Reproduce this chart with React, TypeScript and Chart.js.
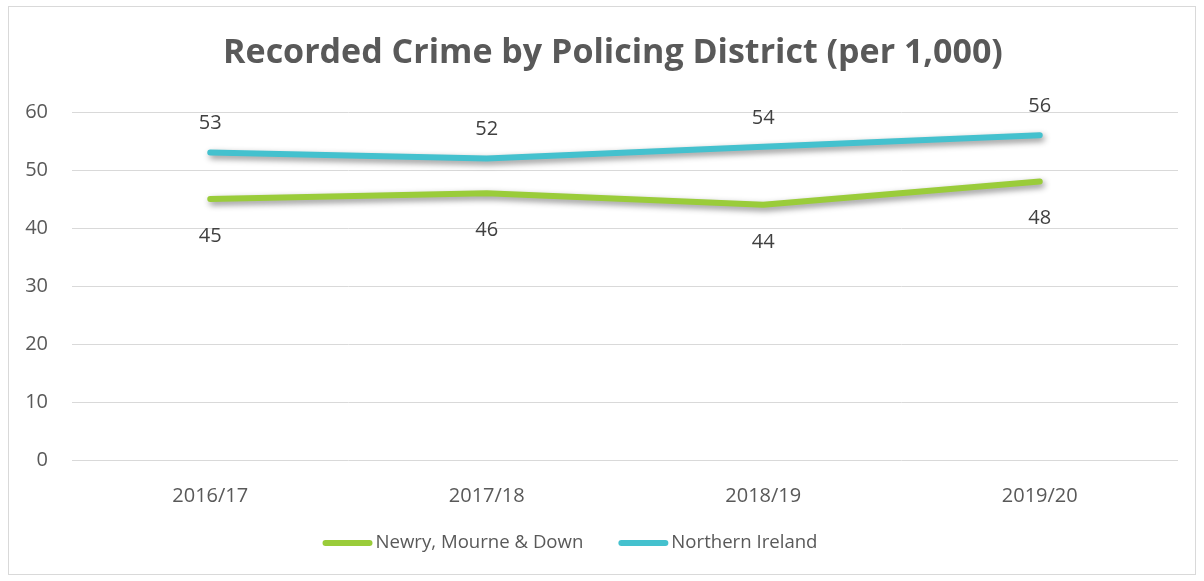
import React, { useEffect, useRef } from "react";
import { Chart, registerables } from "chart.js";

Chart.register(...registerables);

const categories = ["2016/17", "2017/18", "2018/19", "2019/20"];
const newryValues = [45, 46, 44, 48];
const niValues = [53, 52, 54, 56];
const seriesNames = ["Newry, Mourne & Down", "Northern Ireland"];
const seriesColors = ["#9ACC3A", "#44C1CE"];
const titleText = "Recorded Crime by Policing District (per 1,000)";

const FONT = "'Open Sans', 'DejaVu Sans', sans-serif";

const shadowPlugin = {
  id: "lineShadow",
  beforeDatasetsDraw(chart: any) {
    const ctx = chart.ctx;
    ctx.save();
    ctx.shadowColor = "rgba(0,0,0,0.45)";
    ctx.shadowBlur = 6;
    ctx.shadowOffsetX = 2;
    ctx.shadowOffsetY = 3;
  },
  afterDatasetsDraw(chart: any) {
    chart.ctx.restore();
  },
};

const labelPlugin = {
  id: "valueLabels",
  afterDatasetsDraw(chart: any) {
    const ctx = chart.ctx;
    ctx.save();
    ctx.font = `20px ${FONT}`;
    ctx.fillStyle = "#404040";
    ctx.textAlign = "center";
    ctx.textBaseline = "middle";
    chart.data.datasets.forEach((ds: any, di: number) => {
      const meta = chart.getDatasetMeta(di);
      const off = ds.labelPos === "above" ? -29 : 37;
      meta.data.forEach((pt: any, i: number) => {
        ctx.fillText(String(ds.data[i]), pt.x, pt.y + off);
      });
    });
    ctx.restore();
  },
};

// Title and legend drawn on the canvas
const frameTextPlugin = {
  id: "frameText",
  afterDraw(chart: any) {
    const ctx = chart.ctx;
    ctx.save();
    ctx.font = `bold 34px ${FONT}`;
    ctx.fillStyle = "#595959";
    ctx.textAlign = "center";
    ctx.textBaseline = "middle";
    ctx.fillText(titleText, 604, 46);

    ctx.font = `18.6px ${FONT}`;
    ctx.textAlign = "left";
    const markerW = 50;
    const gap = 3;
    const itemGap = 35;
    const items = chart.data.datasets.map((ds: any) => ({
      text: ds.label,
      color: ds.borderColor,
      w: markerW + gap + ctx.measureText(ds.label).width,
    }));
    const total =
      items.reduce((a: number, it: any) => a + it.w, 0) + itemGap * (items.length - 1);
    let x = 561 - total / 2;
    const y = 536;
    items.forEach((it: any) => {
      ctx.strokeStyle = it.color;
      ctx.lineWidth = 6;
      ctx.lineCap = "round";
      ctx.beginPath();
      ctx.moveTo(x + 3, y);
      ctx.lineTo(x + markerW - 3, y);
      ctx.stroke();
      ctx.fillStyle = "#595959";
      ctx.fillText(it.text, x + markerW + gap, y);
      x += it.w + itemGap;
    });
    ctx.restore();
  },
};

export default function App() {
  const ref = useRef<HTMLCanvasElement | null>(null);
  useEffect(() => {
    document.body.style.margin = "0";
    const chart = new Chart(ref.current as HTMLCanvasElement, {
      type: "line",
      data: {
        labels: categories,
        datasets: [
          {
            label: seriesNames[0],
            data: newryValues,
            borderColor: seriesColors[0],
            backgroundColor: seriesColors[0],
            borderWidth: 6,
            borderCapStyle: "round",
            borderJoinStyle: "round",
            pointRadius: 0,
            tension: 0,
            labelPos: "below",
          } as any,
          {
            label: seriesNames[1],
            data: niValues,
            borderColor: seriesColors[1],
            backgroundColor: seriesColors[1],
            borderWidth: 6,
            borderCapStyle: "round",
            borderJoinStyle: "round",
            pointRadius: 0,
            tension: 0,
            labelPos: "above",
          } as any,
        ],
      },
      options: {
        responsive: false,
        animation: false,
        layout: { padding: { left: 0, right: 17, top: 105, bottom: 50 } },
        plugins: {
          tooltip: { enabled: false },
          legend: { display: false },
          title: { display: false },
        },
        scales: {
          x: {
            offset: true,
            grid: { display: false },
            border: { display: false },
            ticks: {
              color: "#595959",
              font: { family: FONT, size: 20 },
              padding: 16,
            },
            afterFit: (s: any) => {
              s.height = 64;
            },
          },
          y: {
            min: 0,
            max: 60,
            ticks: {
              stepSize: 10,
              color: "#595959",
              font: { family: FONT, size: 20 },
              padding: 24,
            },
            grid: { color: "#d9d9d9", lineWidth: 1, drawTicks: false },
            border: { display: false },
            afterFit: (s: any) => {
              s.width = 63;
            },
          },
        },
      } as any,
      plugins: [shadowPlugin, labelPlugin, frameTextPlugin],
    });
    return () => chart.destroy();
  }, []);
  return (
    <div
      style={{
        position: "absolute",
        left: 8,
        top: 6,
        width: 1186,
        height: 567,
        border: "1px solid #d9d9d9",
        background: "#fff",
      }}
    >
      <canvas ref={ref} width={1186} height={567} style={{ display: "block" }} />
    </div>
  );
}
